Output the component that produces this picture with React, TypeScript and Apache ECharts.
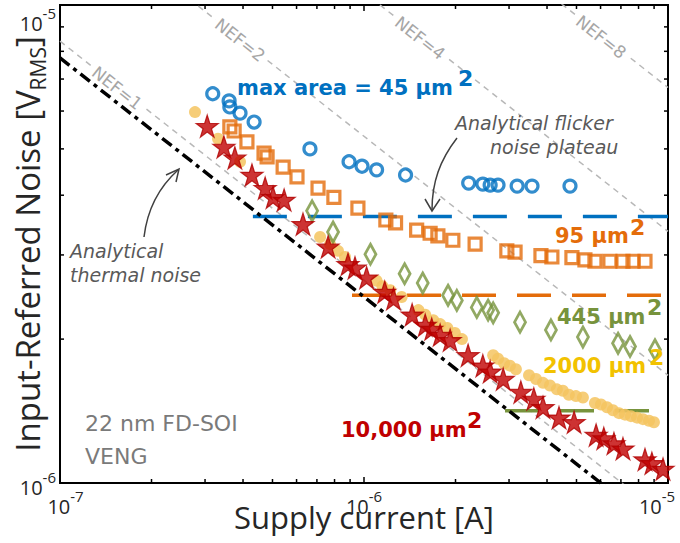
import React, { useEffect, useRef } from "react";
import * as echarts from "echarts";

// ---------- data (supply current [A], input-referred noise [V_RMS]) ----------
const area45: [number, number][] = [
  [3.18e-7, 6.52e-6], [3.6e-7, 6.3e-6], [3.62e-7, 6.12e-6], [3.91e-7, 5.94e-6], [4.35e-7, 5.69e-6],
  [6.64e-7, 5.0e-6], [8.93e-7, 4.7e-6], [9.85e-7, 4.6e-6], [1.1e-6, 4.52e-6], [1.37e-6, 4.41e-6],
  [2.21e-6, 4.24e-6], [2.46e-6, 4.22e-6], [2.6e-6, 4.2e-6], [2.76e-6, 4.2e-6], [3.19e-6, 4.18e-6],
  [3.57e-6, 4.18e-6], [4.76e-6, 4.18e-6],
];
const area95: [number, number][] = [
  [3.62e-7, 5.56e-6], [3.74e-7, 5.45e-6], [4.12e-7, 5.17e-6], [4.69e-7, 4.9e-6], [4.8e-7, 4.81e-6],
  [5.42e-7, 4.58e-6], [6.02e-7, 4.37e-6], [7.06e-7, 4.14e-6], [7.96e-7, 3.96e-6], [9.55e-7, 3.76e-6],
  [1.18e-6, 3.55e-6], [1.27e-6, 3.5e-6], [1.49e-6, 3.38e-6], [1.65e-6, 3.33e-6], [1.75e-6, 3.29e-6],
  [1.96e-6, 3.22e-6], [2.32e-6, 3.16e-6], [2.95e-6, 3.06e-6], [3.14e-6, 3.04e-6], [3.82e-6, 2.99e-6],
  [4.15e-6, 2.97e-6], [4.83e-6, 2.96e-6], [5.33e-6, 2.93e-6], [5.75e-6, 2.91e-6], [6.44e-6, 2.91e-6],
  [7.11e-6, 2.91e-6], [7.67e-6, 2.91e-6], [8.4e-6, 2.91e-6],
];
const area445: [number, number][] = [
  [6.75e-7, 3.71e-6], [7.91e-7, 3.35e-6], [1.05e-6, 3.01e-6], [1.36e-6, 2.74e-6], [1.56e-6, 2.62e-6],
  [1.89e-6, 2.47e-6], [2.02e-6, 2.41e-6], [2.35e-6, 2.33e-6], [2.56e-6, 2.3e-6], [2.66e-6, 2.27e-6],
  [3.26e-6, 2.17e-6], [4.12e-6, 2.09e-6], [5.25e-6, 2.02e-6], [6.85e-6, 1.96e-6], [7.5e-6, 1.93e-6],
  [9.06e-6, 1.9e-6],
];
const area2000: [number, number][] = [
  [2.78e-7, 5.97e-6], [3.31e-7, 5.25e-6], [3.91e-7, 4.7e-6], [7.17e-7, 3.27e-6], [7.73e-7, 3.16e-6],
  [8.21e-7, 3.06e-6], [8.66e-7, 2.97e-6], [1.1e-6, 2.65e-6], [1.15e-6, 2.58e-6], [1.22e-6, 2.53e-6],
  [1.33e-6, 2.45e-6], [1.51e-6, 2.3e-6], [1.59e-6, 2.25e-6], [1.69e-6, 2.19e-6], [1.78e-6, 2.15e-6],
  [1.88e-6, 2.11e-6], [1.99e-6, 2.06e-6], [2.1e-6, 2.0e-6], [2.66e-6, 1.85e-6], [2.76e-6, 1.82e-6],
  [2.89e-6, 1.78e-6], [3.02e-6, 1.76e-6], [3.16e-6, 1.73e-6], [3.49e-6, 1.68e-6], [3.68e-6, 1.65e-6],
  [3.88e-6, 1.62e-6], [4.09e-6, 1.6e-6], [4.31e-6, 1.57e-6], [4.51e-6, 1.56e-6], [4.72e-6, 1.53e-6],
  [4.98e-6, 1.52e-6], [5.25e-6, 1.51e-6], [5.75e-6, 1.47e-6], [6.02e-6, 1.46e-6], [6.3e-6, 1.44e-6],
  [6.59e-6, 1.42e-6], [6.9e-6, 1.4e-6], [7.22e-6, 1.39e-6], [7.55e-6, 1.38e-6], [7.91e-6, 1.37e-6],
  [8.27e-6, 1.36e-6], [8.66e-6, 1.35e-6], [8.99e-6, 1.34e-6],
];
const area10000: [number, number][] = [
  [3.05e-7, 5.58e-6], [3.46e-7, 5.05e-6], [3.76e-7, 4.79e-6], [4.28e-7, 4.41e-6], [4.73e-7, 4.14e-6],
  [5.02e-7, 3.96e-6], [5.46e-7, 3.91e-6], [6.3e-7, 3.48e-6], [7.62e-7, 3.12e-6], [8.86e-7, 2.87e-6],
  [9.34e-7, 2.82e-6], [1.02e-6, 2.69e-6], [1.17e-6, 2.51e-6], [1.25e-6, 2.43e-6], [1.44e-6, 2.25e-6],
  [1.59e-6, 2.14e-6], [1.67e-6, 2.1e-6], [1.78e-6, 2.04e-6], [1.92e-6, 1.99e-6], [2.2e-6, 1.85e-6],
  [2.46e-6, 1.76e-6], [2.6e-6, 1.71e-6], [2.87e-6, 1.65e-6], [3.28e-6, 1.55e-6], [3.62e-6, 1.5e-6],
  [3.88e-6, 1.44e-6], [4.38e-6, 1.37e-6], [4.91e-6, 1.34e-6], [5.8e-6, 1.26e-6], [6.15e-6, 1.24e-6],
  [6.64e-6, 1.21e-6], [7.11e-6, 1.18e-6], [8.4e-6, 1.12e-6], [8.85e-6, 1.1e-6], [9.63e-6, 1.07e-6],
];

// analytical lines (end points)
const thermalLine: [number, number][] = [[1e-7, 7.75e-6], [1e-5, 7.75e-7]];
const nef1Line: [number, number][] = [[1e-7, 8.4e-6], [1e-5, 8.4e-7]];
const nef2Line: [number, number][] = [[1e-7, 1.68e-5], [1e-5, 1.68e-6]];
const nef4Line: [number, number][] = [[1e-7, 3.36e-5], [1e-5, 3.36e-6]];
const nef8Line: [number, number][] = [[1e-7, 6.72e-5], [1e-5, 6.72e-6]];
const plateau45: [number, number][] = [[4.31e-7, 3.61e-6], [1e-5, 3.61e-6]];
const plateau95: [number, number][] = [[9.13e-7, 2.47e-6], [1e-5, 2.47e-6]];
const plateau445: [number, number][] = [[2.91e-6, 1.416e-6], [8.73e-6, 1.416e-6]];

// axis ticks
const xMin = 1e-7, xMax = 1e-5, yMin = 1e-6, yMax = 1e-5;
const xTickValues = [
  2e-7, 3e-7, 4e-7, 5e-7, 6e-7, 7e-7, 8e-7, 9e-7, 1e-6,
  2e-6, 3e-6, 4e-6, 5e-6, 6e-6, 7e-6, 8e-6, 9e-6,
];
const yTickValues = [2e-6, 3e-6, 4e-6, 5e-6, 6e-6, 7e-6, 8e-6, 9e-6];

const BLUE = "#0070C0";
const ORANGE = "#E46C0A";
const GREEN = "#77933C";
const YELLOW_DOT = "#F5C460";
const YELLOW_TXT = "#F2C200";
const RED = "#C00000";
const AX = "#262626";
const STAR =
  "path://M0,-10L2.245,-3.09L9.511,-3.09L3.633,1.18L5.878,8.09L0,3.82L-5.878,8.09L-3.633,1.18L-9.511,-3.09L-2.245,-3.09Z";

const isMajor = (v: number) => Math.abs(Math.log10(v) - Math.round(Math.log10(v))) < 1e-6;

function tickSeries(data: number[][], vertical: boolean) {
  return {
    type: "custom",
    data,
    silent: true,
    z: 20,
    clip: false,
    renderItem: (params: any, api: any) => {
      const p = api.coord([api.value(0), api.value(1)]);
      const cs = params.coordSys;
      const len = isMajor(vertical ? api.value(1) : api.value(0)) ? 6 : 4;
      const st = { stroke: "#000", lineWidth: 1.5 };
      if (!vertical) {
        const b = cs.y + cs.height, t = cs.y;
        return {
          type: "group",
          children: [
            { type: "line", shape: { x1: p[0], y1: b, x2: p[0], y2: b - len }, style: st },
            { type: "line", shape: { x1: p[0], y1: t, x2: p[0], y2: t + len }, style: st },
          ],
        };
      }
      const l = cs.x, r = cs.x + cs.width;
      return {
        type: "group",
        children: [
          { type: "line", shape: { x1: l, y1: p[1], x2: l + len, y2: p[1] }, style: st },
          { type: "line", shape: { x1: r, y1: p[1], x2: r - len, y2: p[1] }, style: st },
        ],
      };
    },
  };
}

function lineSeries(data: [number, number][], color: string, width: number, type: any, z = 1) {
  return {
    type: "line",
    data,
    symbol: "none",
    silent: true,
    z,
    lineStyle: { color, width, type, cap: "butt" },
  };
}

const F = "DejaVu Sans";
function label(x: number, y: number, text: string, color: string, size: number, extra: any = {}) {
  return {
    type: "text",
    x,
    y,
    z: 60,
    silent: true,
    style: {
      text,
      fill: color,
      fontFamily: F,
      fontSize: size,
      fontWeight: extra.weight || "normal",
      fontStyle: extra.style || "normal",
      align: extra.align || "left",
      textAlign: extra.align || "left",
      verticalAlign: "middle",
      textVerticalAlign: "middle",
    },
  };
}
function nefLabel(x: number, y: number, text: string) {
  return {
    type: "text",
    x,
    y,
    rotation: -0.667,
    z: 55,
    silent: true,
    style: {
      text,
      fill: "#a6a6a6",
      fontFamily: F,
      fontSize: 17,
      align: "center",
      textAlign: "center",
      verticalAlign: "middle",
      textVerticalAlign: "middle",
      backgroundColor: "#fff",
      padding: [0, 3],
    },
  };
}

const axisRich = {
  b: { fontFamily: "Open Sans", fontSize: 20, color: AX, lineHeight: 28, verticalAlign: "bottom" },
  s: { fontFamily: "Open Sans", fontSize: 15, color: AX, lineHeight: 15, verticalAlign: "top" },
  bl: { fontFamily: "Open Sans", fontSize: 20, color: AX, lineHeight: 28, verticalAlign: "bottom", padding: [0, 0, 0, 11] },
  sr: { fontFamily: "Open Sans", fontSize: 15, color: AX, lineHeight: 15, verticalAlign: "top", padding: [0, 22, 0, 0] },
};

export default function App() {
  const ref = useRef<HTMLDivElement>(null);
  useEffect(() => {
    document.body.style.margin = "0";
    const chart = echarts.init(ref.current!, null, { renderer: "svg" });
    const option: any = {
      animation: false,
      backgroundColor: "#fff",
      grid: {
        left: 60, right: 12, top: 5, bottom: 60,
        containLabel: false,
        outerBoundsMode: "none",
        show: true, borderColor: "#000", borderWidth: 2, backgroundColor: "transparent",
      },
      xAxis: {
        type: "log",
        logBase: 10,
        min: xMin,
        max: xMax,
        splitLine: { show: false },
        axisLine: { show: false },
        axisTick: { show: false },
        axisLabel: {
          margin: 5,
          formatter: (v: number) => {
            const e = Math.round(Math.log10(v));
            if (e === -7) return `{bl|10}{s|${e}}`;
            if (e === -5) return `{b|10}{sr|${e}}`;
            return `{b|10}{s|${e}}`;
          },
          rich: axisRich,
        },
        name: "Supply current [A]",
        nameLocation: "middle",
        nameGap: 18,
        nameMoveOverlap: false,
        nameTextStyle: { fontFamily: "Open Sans", fontSize: 31, color: AX },
      },
      yAxis: {
        type: "log",
        logBase: 10,
        min: yMin,
        max: yMax,
        splitLine: { show: false },
        axisLine: { show: false },
        axisTick: { show: false },
        axisLabel: {
          margin: 4,
          verticalAlignMaxLabel: "top",
          formatter: (v: number) => `{b|10}{s|${Math.round(Math.log10(v))}}`,
          rich: axisRich,
        },
        name: "{a|Input-Referred Noise [V}{s|RMS}{a|]}",
        nameLocation: "middle",
        nameGap: 12,
        nameMoveOverlap: false,
        nameTextStyle: {
          fontFamily: "Open Sans",
          fontSize: 33,
          color: AX,
          rich: {
            a: { fontFamily: "Open Sans", fontSize: 33, color: AX, lineHeight: 42, verticalAlign: "middle" },
            s: { fontFamily: "Open Sans", fontSize: 21, color: AX, lineHeight: 21, verticalAlign: "bottom" },
          },
        },
      },
      series: [
        lineSeries(nef1Line, "#b8b8b8", 1.5, [6, 5]),
        lineSeries(nef2Line, "#b8b8b8", 1.5, [6, 5]),
        lineSeries(nef4Line, "#b8b8b8", 1.5, [6, 5]),
        lineSeries(nef8Line, "#b8b8b8", 1.5, [6, 5]),
        lineSeries(thermalLine, "#000", 3.5, [12, 5, 4, 5], 3),
        lineSeries(plateau45, BLUE, 3.5, [34, 21], 2),
        lineSeries(plateau95, ORANGE, 3.5, [34, 21], 2),
        lineSeries(plateau445, GREEN, 3.5, [34, 21], 2),
        {
          type: "scatter",
          data: area2000,
          symbol: "circle",
          symbolSize: 12,
          z: 4,
          itemStyle: { color: YELLOW_DOT, opacity: 0.85 },
        },
        {
          type: "scatter",
          data: area45,
          symbol: "circle",
          symbolSize: 12,
          z: 5,
          itemStyle: { color: "rgba(0,0,0,0)", borderColor: BLUE, borderWidth: 3.2 },
        },
        {
          type: "scatter",
          data: area95,
          symbol: "rect",
          symbolSize: 12,
          z: 5,
          itemStyle: { color: "rgba(0,0,0,0)", borderColor: ORANGE, borderWidth: 3.2 },
        },
        {
          type: "scatter",
          data: area445,
          symbol: "diamond",
          symbolSize: [11, 20],
          z: 5,
          itemStyle: { color: "rgba(0,0,0,0)", borderColor: GREEN, borderWidth: 3 },
        },
        {
          type: "scatter",
          data: area10000,
          symbol: STAR,
          symbolSize: 22,
          z: 6,
          itemStyle: { color: RED, borderColor: "#B00000", borderWidth: 1.2 },
        },
        tickSeries(xTickValues.map((v) => [v, yMin]), false),
        tickSeries(yTickValues.map((v) => [xMin, v]), true),
      ],
      graphic: [
        nefLabel(117, 88, "NEF=1"),
        nefLabel(240, 40, "NEF=2"),
        nefLabel(420, 38, "NEF=4"),
        nefLabel(601, 37, "NEF=8"),
        label(237, 88, "max area = 45 µm", BLUE, 21, { weight: "bold" }),
        label(458, 78, "2", BLUE, 22, { weight: "bold" }),
        label(555, 236, "95 µm", ORANGE, 21, { weight: "bold" }),
        label(630, 227, "2", ORANGE, 22, { weight: "bold" }),
        label(557, 317, "445 µm", GREEN, 21, { weight: "bold" }),
        label(647, 307, "2", GREEN, 22, { weight: "bold" }),
        label(543, 366, "2000 µm", YELLOW_TXT, 21, { weight: "bold" }),
        label(649, 357, "2", YELLOW_TXT, 22, { weight: "bold" }),
        label(341, 430, "10,000 µm", RED, 21, { weight: "bold" }),
        label(467, 420, "2", RED, 22, { weight: "bold" }),
        label(455, 123, "Analytical flicker", "#595959", 19, { style: "italic" }),
        label(490, 147, "noise plateau", "#595959", 19, { style: "italic" }),
        label(70, 251, "Analytical", "#595959", 19, { style: "italic" }),
        label(70, 275, "thermal noise", "#595959", 19, { style: "italic" }),
        label(85, 423, "22 nm FD-SOI", "#7a7a7a", 22),
        label(85, 456, "VENG", "#7a7a7a", 22),
        {
          type: "bezierCurve",
          z: 60,
          silent: true,
          shape: { x1: 457, y1: 138, cpx1: 440, cpy1: 160, cpx2: 432, cpy2: 182, x2: 432, y2: 210 },
          style: { stroke: "#404040", lineWidth: 1.5, fill: null },
        },
        {
          type: "polyline",
          z: 60,
          silent: true,
          shape: { points: [[425, 199], [432, 211], [440, 199]] },
          style: { stroke: "#404040", lineWidth: 1.5, fill: null },
        },
        {
          type: "bezierCurve",
          z: 60,
          silent: true,
          shape: { x1: 144, y1: 237, cpx1: 147, cpy1: 212, cpx2: 158, cpy2: 188, x2: 178, y2: 170 },
          style: { stroke: "#404040", lineWidth: 1.5, fill: null },
        },
        {
          type: "polyline",
          z: 60,
          silent: true,
          shape: { points: [[166, 175], [179, 169], [176, 182]] },
          style: { stroke: "#404040", lineWidth: 1.5, fill: null },
        },
      ],
    };
    chart.setOption(option);
    return () => chart.dispose();
  }, []);
  return <div ref={ref} style={{ width: 680, height: 543 }} />;
}
